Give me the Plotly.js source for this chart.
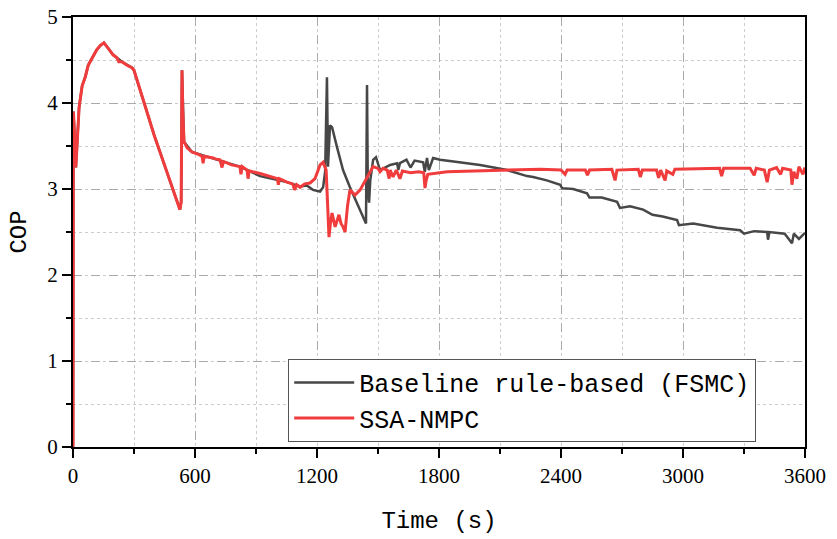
<!DOCTYPE html>
<html>
<head>
<meta charset="utf-8">
<script src="https://cdn.plot.ly/plotly-3.0.1.min.js"></script>
<style>
    body { margin: 0; background: #fff; }
    #myDiv { width: 837px; height: 539px; }
</style>
</head>
<body>
<div id="myDiv"></div>
<script>
/* COP over time, rule-based baseline vs SSA-NMPC */

const seriesNames = ['Baseline rule-based (FSMC)', 'SSA-NMPC'];

// Baseline (FSMC)
const timeBase = [0, 2, 8, 14, 22, 30, 45, 60, 75, 95, 117, 135, 152, 175, 197, 241, 290, 300,
    400, 492, 526, 532, 536, 546, 585, 723, 821, 920, 984, 1052, 1117, 1150, 1180, 1215,
    1230, 1240, 1249, 1254, 1264, 1274, 1298, 1328, 1362, 1397, 1441, 1446, 1450, 1456,
    1462, 1476, 1490, 1510, 1544, 1560, 1594, 1600, 1608, 1640, 1660, 1680, 1722, 1730,
    1741, 1750, 1771, 1805, 1900, 2002, 2135, 2233, 2263, 2330, 2396, 2405, 2460, 2528,
    2540, 2600, 2676, 2690, 2740, 2804, 2850, 2900, 2971, 2980, 3050, 3168, 3281, 3300,
    3350, 3414, 3418, 3425, 3500, 3536, 3545, 3570, 3600];
const copBase = [0, 3.9, 3.6, 3.25, 3.6, 3.95, 4.2, 4.3, 4.44, 4.53, 4.62, 4.67, 4.70, 4.63, 4.56, 4.48, 4.41, 4.38,
    3.62, 2.99, 2.76, 2.85, 4.38, 3.55, 3.43, 3.33, 3.26, 3.15, 3.12, 3.08, 3.03, 3.04, 2.99, 2.97,
    3.02, 3.20, 4.30, 3.26, 3.74, 3.72, 3.49, 3.22, 3.02, 2.84, 2.60, 4.21, 3.00, 2.84,
    3.10, 3.34, 3.37, 3.22, 3.26, 3.28, 3.30, 3.22, 3.30, 3.34, 3.25, 3.33, 3.31, 3.20,
    3.36, 3.22, 3.36, 3.34, 3.31, 3.28, 3.22, 3.15, 3.14, 3.10, 3.05, 3.01, 3.00, 2.95,
    2.90, 2.90, 2.85, 2.78, 2.80, 2.76, 2.70, 2.68, 2.64, 2.58, 2.60, 2.55, 2.52, 2.48,
    2.51, 2.50, 2.41, 2.50, 2.48, 2.37, 2.48, 2.42, 2.49];

// SSA-NMPC
const timeSsa = [0, 2, 8, 14, 22, 30, 45, 60, 75, 95, 117, 135, 152, 175, 197, 215, 225, 241, 265, 290, 300,
    350, 400, 450, 492, 516, 526, 532, 536, 540, 546, 561, 585, 620, 635, 640, 645, 690, 700,
    723, 733, 740, 780, 821, 826, 832, 856, 861, 866, 920, 984, 1005, 1010, 1015, 1052, 1080,
    1090, 1100, 1117, 1140, 1166, 1190, 1215, 1230, 1245, 1252, 1259, 1266, 1274, 1289, 1300,
    1308, 1318, 1328, 1338, 1350, 1362, 1387, 1412, 1446, 1476, 1500, 1510, 1525, 1545, 1555,
    1560, 1574, 1590, 1608, 1620, 1660, 1700, 1725, 1731, 1737, 1745, 1840, 2002, 2150, 2300,
    2400, 2420, 2430, 2520, 2530, 2540, 2650, 2666, 2675, 2780, 2790, 2800, 2870, 2880, 2890,
    2912, 2920, 2950, 2960, 3100, 3180, 3190, 3200, 3330, 3350, 3360, 3400, 3414, 3425, 3460,
    3480, 3490, 3530, 3536, 3545, 3560, 3570, 3590, 3600];
const copSsa = [0, 3.9, 3.6, 3.25, 3.6, 3.95, 4.2, 4.3, 4.44, 4.53, 4.62, 4.67, 4.70, 4.63, 4.56, 4.53, 4.48, 4.48, 4.44, 4.41, 4.38,
    4.0, 3.62, 3.28, 2.99, 2.85, 2.76, 2.85, 4.38, 3.9, 3.55, 3.48, 3.43, 3.40, 3.38, 3.30, 3.38, 3.36, 3.35,
    3.34, 3.25, 3.32, 3.28, 3.26, 3.17, 3.26, 3.22, 3.12, 3.21, 3.18, 3.14, 3.12, 3.05, 3.12, 3.08, 3.06,
    2.99, 3.05, 3.02, 3.06, 3.07, 3.12, 3.28, 3.31, 3.22, 2.90, 2.44, 2.60, 2.72, 2.56, 2.66,
    2.70, 2.60, 2.56, 2.50, 2.80, 2.99, 2.93, 2.99, 3.14, 3.26, 3.24, 3.20, 3.24, 3.22, 3.12,
    3.22, 3.14, 3.22, 3.12, 3.21, 3.19, 3.20, 3.19, 3.01, 3.10, 3.17, 3.20, 3.21, 3.22, 3.23,
    3.22, 3.17, 3.22, 3.22, 3.16, 3.22, 3.23, 3.10, 3.22, 3.23, 3.14, 3.22, 3.22, 3.13, 3.22,
    3.10, 3.21, 3.17, 3.23, 3.24, 3.24, 3.15, 3.24, 3.24, 3.16, 3.24, 3.22, 3.08, 3.22, 3.25,
    3.17, 3.24, 3.22, 3.05, 3.20, 3.12, 3.26, 3.17, 3.25];

const xTickVals = [0, 600, 1200, 1800, 2400, 3000, 3600];
const yTickVals = [0, 1, 2, 3, 4, 5];

const textFont = '"Liberation Mono", "DejaVu Sans Mono", monospace';
const tickFont = '"Liberation Serif", "DejaVu Serif", serif';

let baseTrace = {
    x: timeBase,
    y: copBase,
    name: seriesNames[0],
    type: 'scatter',
    mode: 'lines',
    line: {color: '#474747', width: 2.5}
};

let ssaTrace = {
    x: timeSsa,
    y: copSsa,
    name: seriesNames[1],
    type: 'scatter',
    mode: 'lines',
    line: {color: '#f03c3c', width: 3}
};

// shared axis look: black frame, dashed major grid, dotted minor grid
function axisStyle(extra) {
    return Object.assign({
        showline: true,
        mirror: true,
        linecolor: '#000',
        linewidth: 2,
        ticks: 'outside',
        ticklen: 9,
        tickwidth: 2,
        tickcolor: '#000',
        showgrid: true,
        gridcolor: '#aaaaaa',
        griddash: 'dash',
        gridwidth: 1,
        zeroline: false,
        tickfont: {family: tickFont, size: 21, color: '#000'}
    }, extra);
}

let layout = {
    width: 837,
    height: 539,
    margin: {l: 73, r: 32, t: 17, b: 92},
    paper_bgcolor: '#fff',
    plot_bgcolor: '#fff',
    showlegend: true,

    xaxis: axisStyle({
        range: [0, 3600],
        tickvals: xTickVals,
        minor: {dtick: 300, ticks: 'outside', ticklen: 5, tickcolor: '#000', tickwidth: 1.5,
            showgrid: true, gridcolor: '#cccccc', griddash: 'dot', gridwidth: 1},
        title: {text: 'Time (s)', font: {family: textFont, size: 24, color: '#000'}, standoff: 24}
    }),
    yaxis: axisStyle({
        range: [0, 5],
        tickvals: yTickVals,
        minor: {dtick: 0.5, ticks: 'outside', ticklen: 5, tickcolor: '#000', tickwidth: 1.5,
            showgrid: true, gridcolor: '#cccccc', griddash: 'dot', gridwidth: 1},
        title: {text: 'COP', font: {family: textFont, size: 24, color: '#000'}, standoff: 14}
    }),

    legend: {
        x: 0.294,
        y: 0.205,
        xanchor: 'left',
        yanchor: 'top',
        bgcolor: '#fff',
        bordercolor: '#555',
        borderwidth: 1,
        itemwidth: 60,
        tracegroupgap: 0,
        font: {family: textFont, size: 25, color: '#000'}
    }
};

Plotly.newPlot('myDiv', [baseTrace, ssaTrace], layout, {displayModeBar: false, staticPlot: true});
</script>
</body>
</html>
